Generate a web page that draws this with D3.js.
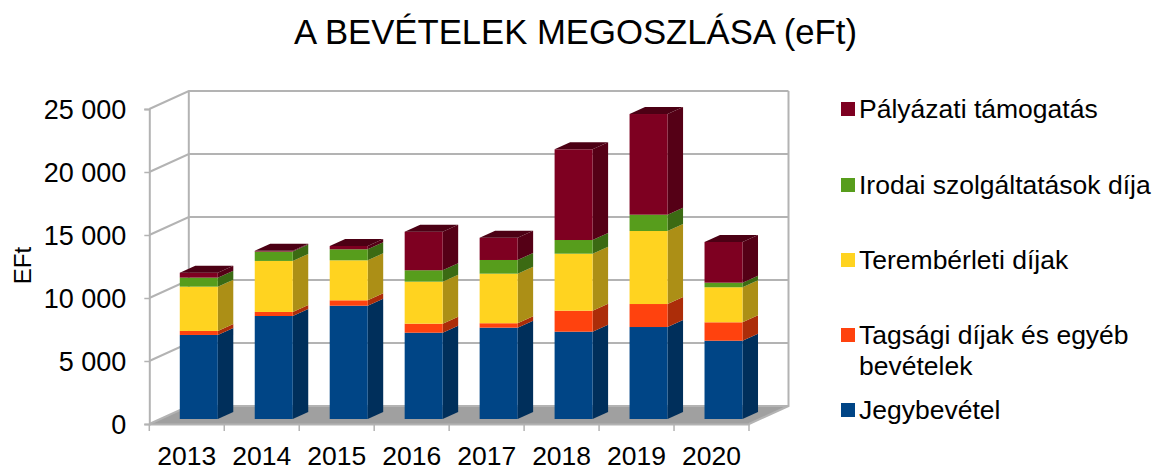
<!DOCTYPE html>
<html>
<head>
<meta charset="utf-8">
<script src="https://cdn.jsdelivr.net/npm/d3@7"></script>
<style>
html, body { margin: 0; padding: 0; background: #fff; }
svg { display: block; }
text { font-family: "Liberation Sans", Arial, sans-serif; fill: #000; }
</style>
</head>
<body>
<svg width="1155" height="467"></svg>
<script>
const years = ["2013", "2014", "2015", "2016", "2017", "2018", "2019", "2020"];
const jegy = [6670, 8175, 8990, 6850, 7250, 6930, 7300, 6215];
const tagsagi = [320, 320, 430, 715, 350, 1665, 1825, 1460];
const terem = [3515, 4050, 3175, 3335, 3935, 4525, 5795, 2780];
const irodai = [715, 740, 875, 905, 1085, 1085, 1295, 365];
const palyazat = [395, 60, 260, 3065, 1770, 7200, 7990, 3230];

const seriesNames = ["Jegybevétel", "Tagsági díjak és egyéb", "Terembérleti díjak", "Irodai szolgáltatások díja", "Pályázati támogatás"];
const seriesKeys = ["jegy", "tagsagi", "terem", "irodai", "palyazat"];
const colors = ["#004586", "#ff420e", "#ffd320", "#579d1c", "#7e0021"];
const yTicks = [0, 5000, 10000, 15000, 20000, 25000];

const rows = years.map((year, i) => ({
  year,
  jegy: jegy[i],
  tagsagi: tagsagi[i],
  terem: terem[i],
  irodai: irodai[i],
  palyazat: palyazat[i]
}));

const svg = d3.select("svg");

const x = d3.scaleBand().domain(years).range([149.3, 749]);
const y = d3.scaleLinear().domain([0, 25000]).range([424, 109]);

// depth of the box, and where the bars sit inside of it
const depthX = 39.5, depthY = -18;
const barWidth = 38;
const barDx = 12, barDy = -5;
const sideDx = 15.5, sideDy = -7;

const wallColor = "#b3b3b3";
const floorColor = "#a0a0a0";

const pts = a => a.map(p => p.join(",")).join(" ");
const x0 = x.range()[0], x1 = x.range()[1];

// floor
svg.append("polygon")
  .attr("points", pts([[x0, y(0)], [x1, y(0)], [x1 + depthX, y(0) + depthY], [x0 + depthX, y(0) + depthY]]))
  .attr("fill", floorColor);

// gridlines on the walls
const grid = svg.append("g").attr("fill", "none").attr("stroke", wallColor).attr("stroke-width", 2);
yTicks.forEach(t => {
  grid.append("polyline")
    .attr("points", pts([[x0, y(t)], [x0 + depthX, y(t) + depthY], [x1 + depthX, y(t) + depthY]]));
});
grid.append("line")
  .attr("x1", x0 + depthX).attr("x2", x0 + depthX)
  .attr("y1", y(0) + depthY).attr("y2", y(25000) + depthY);
grid.append("polyline")
  .attr("points", pts([[x1 + depthX, y(25000) + depthY], [x1 + depthX, y(0) + depthY], [x1, y(0)]]));

// axes
const yAxis = d3.axisLeft(y)
  .tickValues(yTicks)
  .tickSize(5)
  .tickPadding(18)
  .tickFormat(d => d3.format(",")(d).replace(",", " "));

const yG = svg.append("g").attr("transform", `translate(${x0},0)`).call(yAxis);
yG.select(".domain").attr("stroke", wallColor).attr("stroke-width", 2);
yG.selectAll("line").attr("stroke", wallColor).attr("stroke-width", 1.5);
yG.selectAll("text").attr("font-size", 27).attr("font-family", null).attr("fill", "#000").attr("y", 1);

const xAxis = d3.axisBottom(x).tickSize(0).tickPadding(22);
const xG = svg.append("g").attr("transform", `translate(0,${y(0)})`).call(xAxis);
xG.select(".domain").attr("stroke", wallColor).attr("stroke-width", 2);
xG.selectAll("text").attr("font-size", 26.5).attr("font-family", null).attr("fill", "#000");
// ticks fall between the categories
xG.selectAll(".sep")
  .data(d3.range(years.length + 1))
  .enter().append("line")
  .attr("class", "sep")
  .attr("x1", i => x0 + i * x.step()).attr("x2", i => x0 + i * x.step())
  .attr("y1", 0).attr("y2", 7)
  .attr("stroke", wallColor).attr("stroke-width", 1.5);

svg.append("text")
  .attr("x", 575.5).attr("y", 44)
  .attr("text-anchor", "middle").attr("font-size", 34.7)
  .text("A BEVÉTELEK MEGOSZLÁSA (eFt)");

svg.append("text")
  .attr("transform", "translate(30.5,265.5) rotate(-90)")
  .attr("text-anchor", "middle").attr("font-size", 24)
  .text("EFt");

// bars
const stacked = d3.stack().keys(seriesKeys)(rows);
const bars = svg.append("g");
stacked.forEach((layer, s) => {
  const base = d3.color(colors[s]);
  layer.forEach(d => {
    const left = x(d.data.year) + x.bandwidth() / 2 - barWidth / 2 + barDx;
    const right = left + barWidth;
    const yb = y(d[0]) + barDy;
    const yt = y(d[1]) + barDy;
    bars.append("polygon")
      .attr("points", pts([[right, yb], [right + sideDx, yb + sideDy], [right + sideDx, yt + sideDy], [right, yt]]))
      .attr("fill", base.darker(1.1));
    bars.append("rect")
      .attr("x", left).attr("y", yt)
      .attr("width", barWidth).attr("height", yb - yt)
      .attr("fill", base);
    if (s === seriesKeys.length - 1) {
      bars.append("polygon")
        .attr("points", pts([[left, yt], [right, yt], [right + sideDx, yt + sideDy], [left + sideDx, yt + sideDy]]))
        .attr("fill", base.darker(1.4));
    }
  });
});

// legend, top entry first
const legendY = [109, 185, 260, 335, 410];
const legendOrder = d3.range(seriesNames.length).reverse();
const legend = svg.append("g");
legendOrder.forEach((s, i) => {
  legend.append("rect")
    .attr("x", 841).attr("y", legendY[i] - 7)
    .attr("width", 14).attr("height", 14)
    .attr("fill", colors[s]);
  legend.append("text")
    .attr("x", 859).attr("y", legendY[i] + 9)
    .attr("font-size", 26.5)
    .text(seriesNames[s]);
});
legend.append("text")
  .attr("x", 859).attr("y", 375)
  .attr("font-size", 26.5)
  .text("bevételek");
</script>
</body>
</html>
